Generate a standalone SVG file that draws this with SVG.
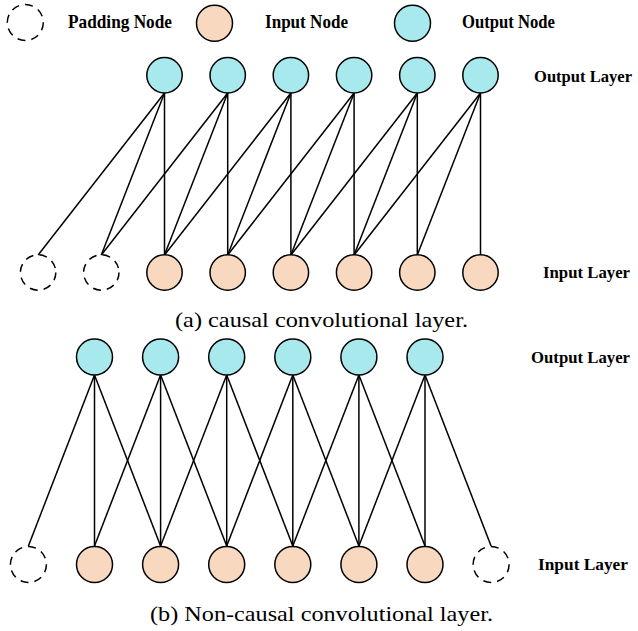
<svg xmlns="http://www.w3.org/2000/svg" width="638" height="631" viewBox="0 0 638 631">
<style>
.out{fill:#a8e9ed;stroke:#000;stroke-width:1.5}
.in{fill:#f8d9c0;stroke:#000;stroke-width:1.5}
.pad{fill:none;stroke:#000;stroke-width:1.5;stroke-dasharray:8 6}
.lbl{font-family:"Liberation Serif","Times New Roman",Times,serif;font-weight:bold;font-size:19px;fill:#000}
.lay{font-family:"Liberation Serif","Times New Roman",Times,serif;font-weight:bold;font-size:17px;fill:#000}
.cap{font-family:"Liberation Serif","Times New Roman",Times,serif;font-size:22px;fill:#000}
.edges line{stroke:#000;stroke-width:1.5}
</style>
<rect width="638" height="631" fill="#fff"/>
<g id="legend">
<circle class="pad" cx="25.3" cy="22.5" r="18"/>
<text class="lbl" x="68" y="28" textLength="104" lengthAdjust="spacingAndGlyphs">Padding Node</text>
<circle class="in" cx="214.5" cy="23.3" r="18"/>
<text class="lbl" x="265" y="28" textLength="83" lengthAdjust="spacingAndGlyphs">Input Node</text>
<circle class="out" cx="412.5" cy="23.3" r="18"/>
<text class="lbl" x="462" y="28" textLength="93" lengthAdjust="spacingAndGlyphs">Output Node</text>
</g>
<g id="edges-a" class="edges">
<line x1="164.5" y1="93" x2="38.1" y2="255"/>
<line x1="164.5" y1="93" x2="101.3" y2="255"/>
<line x1="164.5" y1="93" x2="164.5" y2="255"/>
<line x1="227.7" y1="93" x2="101.3" y2="255"/>
<line x1="227.7" y1="93" x2="164.5" y2="255"/>
<line x1="227.7" y1="93" x2="227.7" y2="255"/>
<line x1="290.9" y1="93" x2="164.5" y2="255"/>
<line x1="290.9" y1="93" x2="227.7" y2="255"/>
<line x1="290.9" y1="93" x2="290.9" y2="255"/>
<line x1="354.1" y1="93" x2="227.7" y2="255"/>
<line x1="354.1" y1="93" x2="290.9" y2="255"/>
<line x1="354.1" y1="93" x2="354.1" y2="255"/>
<line x1="417.3" y1="93" x2="290.9" y2="255"/>
<line x1="417.3" y1="93" x2="354.1" y2="255"/>
<line x1="417.3" y1="93" x2="417.3" y2="255"/>
<line x1="480.5" y1="93" x2="354.1" y2="255"/>
<line x1="480.5" y1="93" x2="417.3" y2="255"/>
<line x1="480.5" y1="93" x2="480.5" y2="255"/>
</g>
<g id="edges-b" class="edges">
<line x1="94.5" y1="375" x2="28.4" y2="546"/>
<line x1="94.5" y1="375" x2="94.5" y2="546"/>
<line x1="94.5" y1="375" x2="160.6" y2="546"/>
<line x1="160.6" y1="375" x2="94.5" y2="546"/>
<line x1="160.6" y1="375" x2="160.6" y2="546"/>
<line x1="160.6" y1="375" x2="226.7" y2="546"/>
<line x1="226.7" y1="375" x2="160.6" y2="546"/>
<line x1="226.7" y1="375" x2="226.7" y2="546"/>
<line x1="226.7" y1="375" x2="292.8" y2="546"/>
<line x1="292.8" y1="375" x2="226.7" y2="546"/>
<line x1="292.8" y1="375" x2="292.8" y2="546"/>
<line x1="292.8" y1="375" x2="358.9" y2="546"/>
<line x1="358.9" y1="375" x2="292.8" y2="546"/>
<line x1="358.9" y1="375" x2="358.9" y2="546"/>
<line x1="358.9" y1="375" x2="425" y2="546"/>
<line x1="425" y1="375" x2="358.9" y2="546"/>
<line x1="425" y1="375" x2="425" y2="546"/>
<line x1="425" y1="375" x2="491.1" y2="546"/>
</g>
<g id="a-out1"><circle class="out" cx="164.5" cy="75.3" r="17.7"/></g>
<g id="a-out2"><circle class="out" cx="227.7" cy="75.3" r="17.7"/></g>
<g id="a-out3"><circle class="out" cx="290.9" cy="75.3" r="17.7"/></g>
<g id="a-out4"><circle class="out" cx="354.1" cy="75.3" r="17.7"/></g>
<g id="a-out5"><circle class="out" cx="417.3" cy="75.3" r="17.7"/></g>
<g id="a-out6"><circle class="out" cx="480.5" cy="75.3" r="17.7"/></g>
<g id="a-pad1"><circle class="pad" cx="38.1" cy="272.5" r="17.7"/></g>
<g id="a-pad2"><circle class="pad" cx="101.3" cy="272.5" r="17.7"/></g>
<g id="a-in1"><circle class="in" cx="164.5" cy="272.5" r="17.7"/></g>
<g id="a-in2"><circle class="in" cx="227.7" cy="272.5" r="17.7"/></g>
<g id="a-in3"><circle class="in" cx="290.9" cy="272.5" r="17.7"/></g>
<g id="a-in4"><circle class="in" cx="354.1" cy="272.5" r="17.7"/></g>
<g id="a-in5"><circle class="in" cx="417.3" cy="272.5" r="17.7"/></g>
<g id="a-in6"><circle class="in" cx="480.5" cy="272.5" r="17.7"/></g>
<g id="a-labels">
<text class="lay" x="534" y="81.5" textLength="98" lengthAdjust="spacingAndGlyphs">Output Layer</text>
<text class="lay" x="543" y="278" textLength="87" lengthAdjust="spacingAndGlyphs">Input Layer</text>
<text class="cap" x="175" y="327" textLength="293" lengthAdjust="spacingAndGlyphs">(a) causal convolutional layer.</text>
</g>
<g id="b-out1"><circle class="out" cx="94.5" cy="357" r="18"/></g>
<g id="b-out2"><circle class="out" cx="160.6" cy="357" r="18"/></g>
<g id="b-out3"><circle class="out" cx="226.7" cy="357" r="18"/></g>
<g id="b-out4"><circle class="out" cx="292.8" cy="357" r="18"/></g>
<g id="b-out5"><circle class="out" cx="358.9" cy="357" r="18"/></g>
<g id="b-out6"><circle class="out" cx="425" cy="357" r="18"/></g>
<g id="b-pad1"><circle class="pad" cx="28.4" cy="564.5" r="18"/></g>
<g id="b-in1"><circle class="in" cx="94.5" cy="564.5" r="18"/></g>
<g id="b-in2"><circle class="in" cx="160.6" cy="564.5" r="18"/></g>
<g id="b-in3"><circle class="in" cx="226.7" cy="564.5" r="18"/></g>
<g id="b-in4"><circle class="in" cx="292.8" cy="564.5" r="18"/></g>
<g id="b-in5"><circle class="in" cx="358.9" cy="564.5" r="18"/></g>
<g id="b-in6"><circle class="in" cx="425" cy="564.5" r="18"/></g>
<g id="b-pad2"><circle class="pad" cx="491.1" cy="564.5" r="18"/></g>
<g id="b-labels">
<text class="lay" x="531" y="363" textLength="99" lengthAdjust="spacingAndGlyphs">Output Layer</text>
<text class="lay" x="538" y="570" textLength="90" lengthAdjust="spacingAndGlyphs">Input Layer</text>
<text class="cap" x="150" y="621" textLength="343" lengthAdjust="spacingAndGlyphs">(b) Non-causal convolutional layer.</text>
</g>
</svg>
